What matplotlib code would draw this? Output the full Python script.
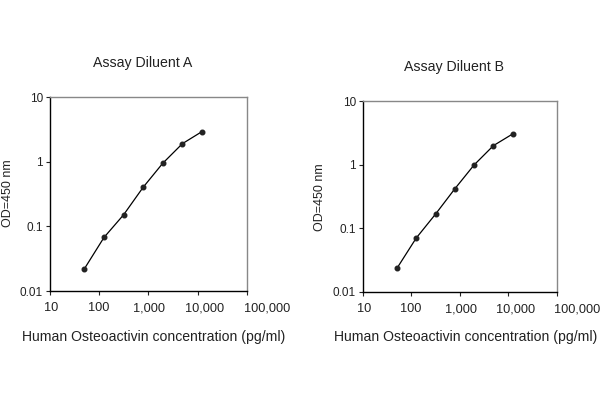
import matplotlib
matplotlib.use("Agg")
import matplotlib.pyplot as plt
from matplotlib.ticker import FixedLocator, FixedFormatter
from matplotlib.transforms import ScaledTranslation

plt.rcParams['font.family'] = ['Liberation Sans', 'DejaVu Sans']

# Dados
conc = [50, 125, 312.5, 781, 1953, 4883, 12207]
od_a = [0.0221, 0.0674, 0.151, 0.403, 0.947, 1.90, 2.92]
od_b = [0.0235, 0.0703, 0.167, 0.417, 0.99, 1.99, 3.04]

xticks = [10, 100, 1000, 10000, 100000]
xlabels = ["10", "100", "1,000", "10,000", "100,000"]
yticks = [0.01, 0.1, 1, 10]
ylabels = ["0.01", "0.1", "1", "10"]

titulos = ["Assay Diluent A", "Assay Diluent B"]
xlabel = "Human Osteoactivin concentration (pg/ml)"
ylabel = "OD=450 nm"

# deslocamento (px) dos rótulos do eixo x, como no original
desloc_x = [1, -1, 1, 7, 20]


def configurar_painel(fig, ax, y):
    ax.plot(conc, y, color="black", lw=0.9, marker="o", ms=3.3,
            mfc="#222222", mec="#222222")
    ax.set_xscale("log")
    ax.set_yscale("log")
    ax.set_xlim(10, 100000)
    ax.set_ylim(0.01, 10)
    ax.xaxis.set_major_locator(FixedLocator(xticks))
    ax.xaxis.set_major_formatter(FixedFormatter(xlabels))
    ax.yaxis.set_major_locator(FixedLocator(yticks))
    ax.yaxis.set_major_formatter(FixedFormatter(ylabels))
    ax.minorticks_off()
    ax.tick_params(axis="x", labelsize=9.2, length=3, width=0.8, pad=5,
                   colors="#222222")
    ax.tick_params(axis="y", labelsize=8.5, length=3, width=0.8, pad=2,
                   colors="#222222")
    ax.spines["left"].set_color("black")
    ax.spines["bottom"].set_color("black")
    ax.spines["top"].set_color("#888888")
    ax.spines["right"].set_color("#888888")
    for s in ax.spines.values():
        s.set_linewidth(1.0)
    for lab, dx in zip(ax.get_xticklabels(), desloc_x):
        lab.set_transform(lab.get_transform() +
                          ScaledTranslation(dx / 100, 0, fig.dpi_scale_trans))


fig = plt.figure(figsize=(6, 4), dpi=100)
ax1 = fig.add_axes([50 / 600, 1 - 291 / 400, 197 / 600, 194 / 400])
ax2 = fig.add_axes([363 / 600, 1 - 292 / 400, 194 / 600, 191 / 400])

configurar_painel(fig, ax1, od_a)
configurar_painel(fig, ax2, od_b)

# Títulos e rótulos
fig.text(143 / 600, 1 - 63 / 400, titulos[0], ha="center", va="center",
         fontsize=10.2, color="#222222")
fig.text(454 / 600, 1 - 67 / 400, titulos[1], ha="center", va="center",
         fontsize=10.2, color="#222222")
fig.text(154 / 600, 1 - 337 / 400, xlabel, ha="center", va="center",
         fontsize=10.1, color="#222222")
fig.text(466 / 600, 1 - 337 / 400, xlabel, ha="center", va="center",
         fontsize=10.1, color="#222222")
fig.text(8 / 600, 1 - 193 / 400, ylabel, ha="center", va="center",
         rotation=90, fontsize=9, color="#222222")
fig.text(320 / 600, 1 - 197 / 400, ylabel, ha="center", va="center",
         rotation=90, fontsize=9, color="#222222")

fig.savefig("out.png", dpi=100)
